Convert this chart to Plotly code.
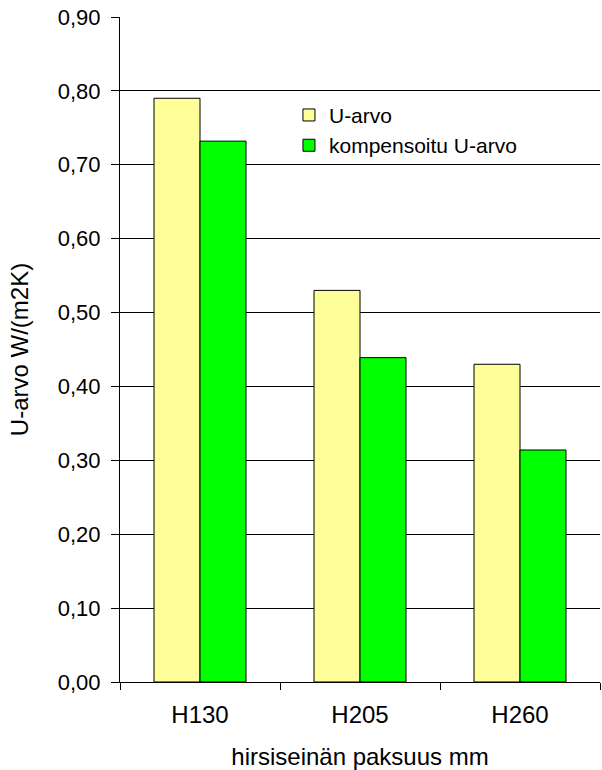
import plotly.graph_objects as go

categories = ["H130", "H205", "H260"]
u_arvo = [0.79, 0.53, 0.43]
kompensoitu = [0.732, 0.439, 0.314]
y_ticks = [0.0, 0.1, 0.2, 0.3, 0.4, 0.5, 0.6, 0.7, 0.8, 0.9]

FAMILY = "Liberation Sans, Arial, sans-serif"
FONT = dict(family=FAMILY, size=24, color="black")

fig = go.Figure()
fig.add_trace(go.Bar(
    name="U-arvo", x=categories, y=u_arvo,
    marker=dict(color="#FFFF99", line=dict(color="black", width=1)),
))
fig.add_trace(go.Bar(
    name="kompensoitu U-arvo", x=categories, y=kompensoitu,
    marker=dict(color="#00FF00", line=dict(color="black", width=1)),
))

fig.update_layout(
    width=602, height=770,
    margin=dict(l=120, r=2, t=17, b=88),
    paper_bgcolor="white", plot_bgcolor="white",
    font=FONT,
    separators=", ",
    barmode="group", bargap=0.425, bargroupgap=0,
    showlegend=True,
    legend=dict(x=0.352, y=0.883, xanchor="left", yanchor="top",
                bgcolor="rgba(0,0,0,0)", borderwidth=0,
                font=dict(family=FAMILY, size=21, color="black"),
                traceorder="normal"),
    xaxis=dict(
        title=dict(text="hirsiseinän paksuus mm", standoff=24, font=FONT),
        showline=True, linecolor="black", linewidth=1,
        ticks="outside", ticklen=7, tickcolor="black",
        tickson="boundaries", showgrid=False, zeroline=False,
        ticklabelstandoff=11,
    ),
    yaxis=dict(
        title=dict(text="U-arvo W/(m2K)", standoff=22, font=FONT),
        range=[0, 0.9], tickvals=y_ticks, tickformat=".2f",
        tickfont=dict(family=FAMILY, size=22, color="black"),
        showline=True, linecolor="black", linewidth=1,
        ticks="outside", ticklen=8, tickcolor="black",
        showgrid=True, gridcolor="black", gridwidth=1,
        zeroline=False, ticklabelstandoff=6,
    ),
)

fig.write_html("out.html")
